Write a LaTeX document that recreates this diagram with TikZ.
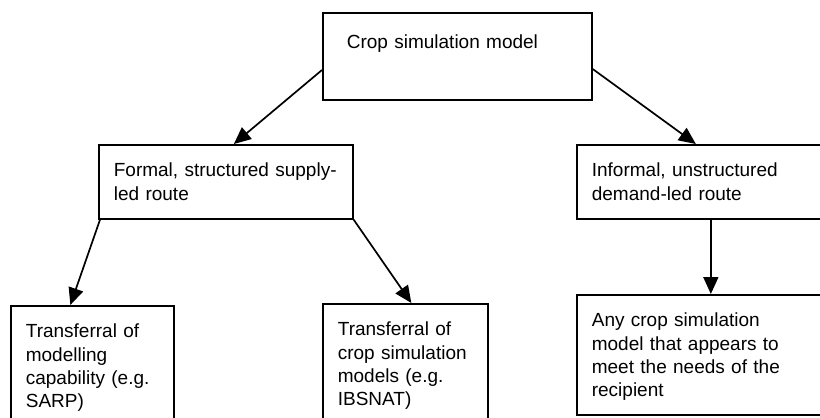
\documentclass[tikz,border=0pt]{standalone}
\usepackage{fontspec}
\setmainfont{Liberation Sans}
\usetikzlibrary{arrows.meta,calc}
\begin{document}
\begin{tikzpicture}[x=1pt,y=-1pt,
  box/.style={draw, line width=1.7pt, anchor=north west, align=left,
    inner xsep=15pt, inner ysep=18pt, text height=14pt,
    font=\fontsize{19}{23.3}\selectfont},
  link/.style={line width=1.7pt, -{Triangle[length=17pt,width=15pt]}}]
\clip (0,0) rectangle (820,418);
\useasboundingbox (0,0) rectangle (820,418);

% model at the top
\node[box, inner xsep=24pt, inner ysep=22pt, text width=221pt, text depth=29pt]
  (model) at (322,12) {Crop simulation model};

% the two routes
\node[box, text width=224pt, text depth=24pt] (formal) at (98,144)
  {Formal, structured supply-\\led route};
\node[box, text width=224pt, text depth=24pt] (informal) at (576,144)
  {Informal, unstructured\\demand-led route};

% outcomes
\node[box, text width=133pt, text depth=80pt] (sarp) at (10,305)
  {Transferral of\\modelling\\capability (e.g.\\SARP)};
\node[box, text width=135pt, text depth=80pt] (ibsnat) at (322,303)
  {Transferral of\\crop simulation\\models (e.g.\\IBSNAT)};
\node[box, text width=224pt, text depth=70pt] (any) at (576,294)
  {Any crop simulation\\model that appears to\\meet the needs of the\\recipient};

% connectors
\draw[link] ($(model.north west)+(0,58)$) -- ($(formal.north)+(8,0)$);
\draw[link] ($(model.north east)+(0,57)$) -- ($(informal.north)+(-8,0)$);
\draw[link] ($(formal.south west)+(2,0)$) -- ($(sarp.north)+(-22,0)$);
\draw[link] (formal.south east) -- ($(ibsnat.north)+(6,0)$);
\draw[link] ($(informal.south)+(7,0)$) -- ($(any.north)+(7,0)$);
\end{tikzpicture}
\end{document}
